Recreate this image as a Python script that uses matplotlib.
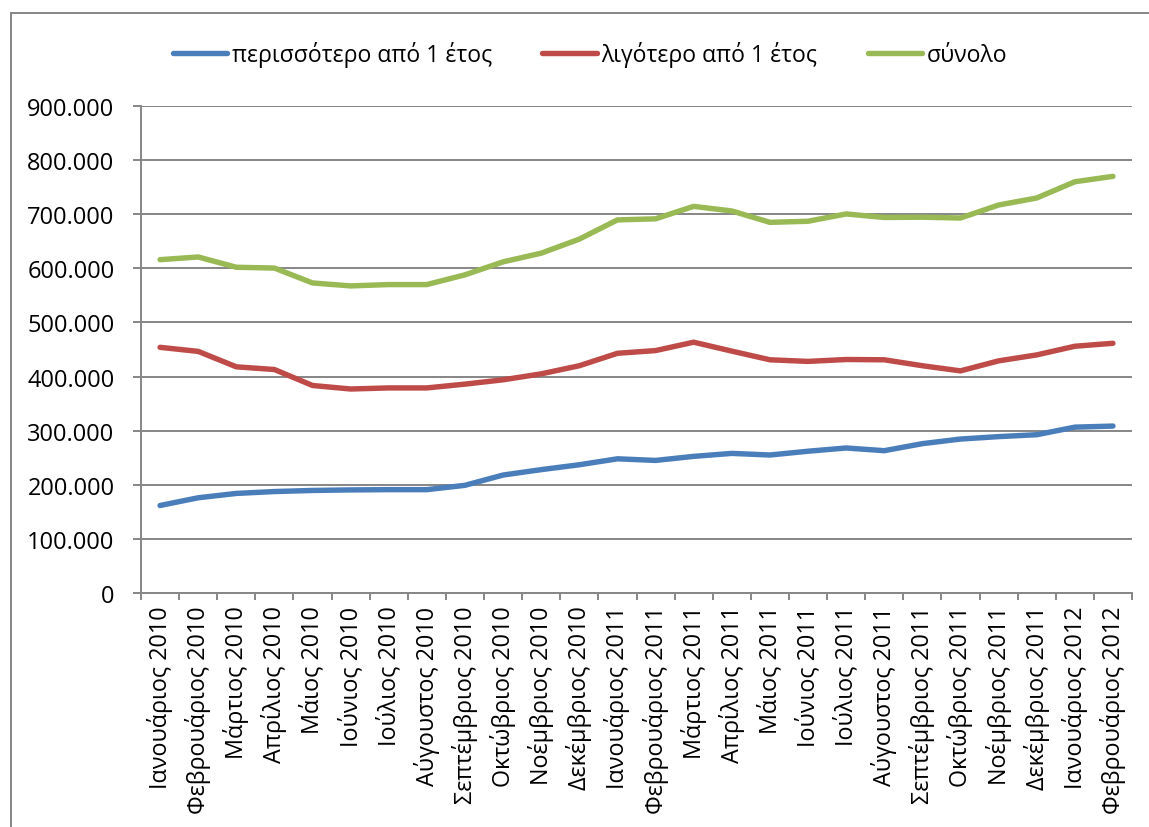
import matplotlib.pyplot as plt
from matplotlib.lines import Line2D
from matplotlib.ticker import FuncFormatter, MultipleLocator
import numpy as np

# μήνες
mines = ["Ιανουάριος 2010", "Φεβρουάριος 2010", "Μάρτιος 2010", "Απρίλιος 2010",
         "Μάιος 2010", "Ιούνιος 2010", "Ιούλιος 2010", "Αύγουστος 2010",
         "Σεπτέμβριος 2010", "Οκτώβριος 2010", "Νοέμβριος 2010", "Δεκέμβριος 2010",
         "Ιανουάριος 2011", "Φεβρουάριος 2011", "Μάρτιος 2011", "Απρίλιος 2011",
         "Μάιος 2011", "Ιούνιος 2011", "Ιούλιος 2011", "Αύγουστος 2011",
         "Σεπτέμβριος 2011", "Οκτώβριος 2011", "Νοέμβριος 2011", "Δεκέμβριος 2011",
         "Ιανουάριος 2012", "Φεβρουάριος 2012"]

perissotero = [161700, 176000, 184000, 187500, 189500, 190500, 191000, 191000,
               199000, 218000, 228000, 237000, 248000, 245000, 252500, 258000,
               255000, 262000, 268000, 263000, 276000, 284500, 289000, 292500,
               306500, 308500]
ligotero = [454000, 446500, 418000, 413000, 383500, 377000, 379000, 379000,
            386000, 394000, 405000, 420000, 443000, 448000, 463500, 447000,
            431000, 428000, 431500, 431000, 420000, 410500, 429000, 440000,
            456000, 461500]
synolo = [616000, 621000, 602000, 600500, 573000, 567500, 570000, 570000,
          588000, 612000, 628000, 654000, 689500, 691500, 714500, 706000,
          685000, 687000, 700500, 694000, 694500, 693000, 717000, 730000,
          760000, 770000]

onomata = ["περισσότερο από 1 έτος", "λιγότερο από 1 έτος", "σύνολο"]
xromata = ["#4A7EBB", "#BE4B48", "#98B954"]

x = np.arange(len(mines))
grammi = "#868686"
font = "Open Sans"

fig = plt.figure(figsize=(11.49, 8.28), dpi=100)
ax = fig.add_axes([141/1149, 1-594/828, (1132-141)/1149, (594-107)/828])

for seira, onoma, xr in zip([perissotero, ligotero, synolo], onomata, xromata):
    ax.plot(x, seira, color=xr, lw=3.9, solid_capstyle="round", label=onoma)

ax.set_xlim(-0.5, len(mines) - 0.5)
ax.set_ylim(0, 900000)
ax.yaxis.set_major_locator(MultipleLocator(100000))
ax.yaxis.set_major_formatter(FuncFormatter(lambda v, p: f"{int(v):,}".replace(",", ".")))
ax.grid(axis="y", color=grammi, lw=1.4)
ax.set_axisbelow(True)

for s in ["top", "right"]:
    ax.spines[s].set_visible(False)
for s in ["left", "bottom"]:
    ax.spines[s].set_color(grammi)
    ax.spines[s].set_linewidth(1.4)

ax.set_xticks(x)
ax.set_xticklabels(mines, rotation=90, ha="center", va="top")
ax.set_xticks(np.arange(len(mines) + 1) - 0.5, minor=True)
ax.tick_params(axis="x", which="major", length=0, pad=9, labelsize=16.8)
ax.tick_params(axis="x", which="minor", length=5, width=1.4, color=grammi, direction="out")
ax.tick_params(axis="y", length=6, width=1.4, color=grammi, pad=13, labelsize=17)

for t in ax.get_xticklabels() + ax.get_yticklabels():
    t.set_fontfamily(font)

leg = fig.legend(loc="center", bbox_to_anchor=(590/1149, 1 - 55/828), ncol=3, frameon=False,
                 prop={"family": font, "size": 16.6}, handlelength=2.35,
                 handletextpad=0.2, columnspacing=2.2)
for h in leg.legend_handles:
    h.set_solid_capstyle("round")

# πλαίσιο
fig.add_artist(Line2D([11/1149, 1], [1-14/828, 1-14/828], color=grammi, lw=1.4, transform=fig.transFigure))
fig.add_artist(Line2D([11/1149, 11/1149], [0, 1-14/828], color=grammi, lw=1.4, transform=fig.transFigure))

fig.savefig("out.png", dpi=100)
